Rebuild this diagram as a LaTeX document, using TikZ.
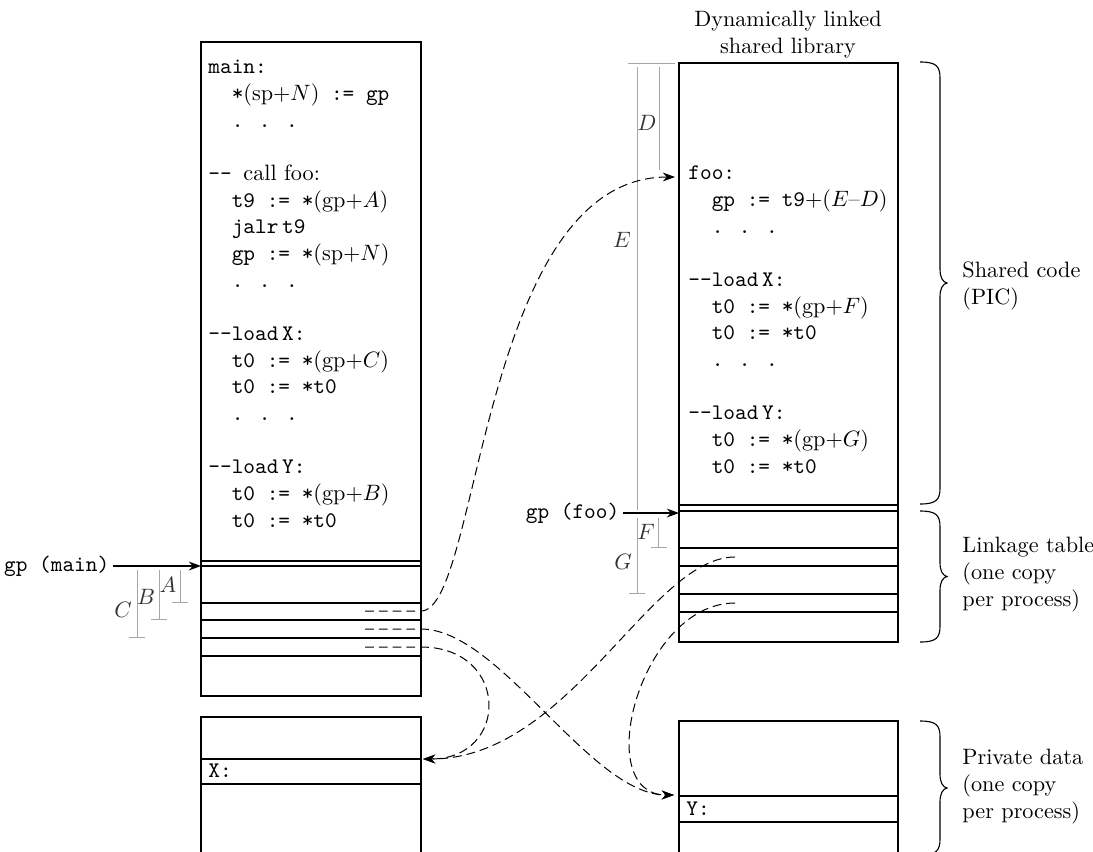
\documentclass[tikz,border=0pt]{standalone}
\usetikzlibrary{arrows.meta,positioning}

\newcommand{\tw}[1]{\texttt{#1}}
\newcommand{\ind}{\hspace*{10.5pt}}
% curly brace beside a segment: x, top, bottom
\newcommand{\sidebrace}[3]{%
  \pgfmathsetmacro{\bmid}{(#2+#3)/2}
  \draw[line width=0.5pt] (#1,#2) .. controls (#1+16,#2) and (#1+20,#2+4) .. (#1+20,#2+16)
    -- (#1+20,\bmid-14) .. controls (#1+20,\bmid-5) and (#1+23,\bmid-1) .. (#1+27,\bmid)
    .. controls (#1+23,\bmid+1) and (#1+20,\bmid+5) .. (#1+20,\bmid+14)
    -- (#1+20,#3-16) .. controls (#1+20,#3-4) and (#1+16,#3) .. (#1,#3);}

\begin{document}
\begin{tikzpicture}[x=0.45pt,y=-0.45pt,
  frame/.style={line width=0.6pt},
  dim/.style={gray!70,line width=0.45pt},
  dimlbl/.style={text=black!80,inner sep=0pt},
  ptr/.style={-{Stealth[length=5.5pt,width=4pt]},line width=0.6pt},
  link/.style={-{Stealth[length=5.5pt,width=4pt]},dash pattern=on 4pt off 2.2pt,line width=0.45pt},
  listing/.style={anchor=base west,align=left,inner sep=0pt},
  note/.style={anchor=base west,align=left,inner sep=0pt}
]
\useasboundingbox (0,0) rectangle (1093,851);
\clip (0,0) rectangle (1093,851);

% main program and its data
\draw[frame] (201,42) rectangle (421,696);
\foreach \y in {561,566,603,620,638,656} \draw[frame] (201,\y) -- (421,\y);
\draw[frame] (201,860) -- (201,717) -- (421,717) -- (421,860);
\foreach \y in {759,784} \draw[frame] (201,\y) -- (421,\y);

% shared library and its data
\draw[frame] (679,63) rectangle (898,642);
\foreach \y in {505,511,548,566,594,612} \draw[frame] (679,\y) -- (898,\y);
\draw[frame] (679,860) -- (679,721) -- (898,721) -- (898,860);
\foreach \y in {796,822} \draw[frame] (679,\y) -- (898,\y);

% multi-line nodes sit on the baseline of their last line
\node[align=center,anchor=base] (libTitle) at (788,53) {Dynamically linked\\shared library};

\node[listing] (mainCode) at (208,527) {%
  \tw{main:}\\
  \ind\tw{*}(sp+$N$)\tw{ := gp}\\
  \ind\tw{. . .}\\
  \\
  \tw{-{}- }call foo:\\
  \ind\tw{t9 := *}(gp+$A$)\\
  \ind\tw{jalr}\,\tw{t9}\\
  \ind\tw{gp := *}(sp+$N$)\\
  \ind\tw{. . .}\\
  \\
  \tw{-{}-load}\,\tw{X:}\\
  \ind\tw{t0 := *}(gp+$C$)\\
  \ind\tw{t0 := *t0}\\
  \ind\tw{. . .}\\
  \\
  \tw{-{}-load}\,\tw{Y:}\\
  \ind\tw{t0 := *}(gp+$B$)\\
  \ind\tw{t0 := *t0}};

\node[listing] (fooCode) at (688,473) {%
  \tw{foo:}\\
  \ind\tw{gp := t9}+($E$--$D$)\\
  \ind\tw{. . .}\\
  \\
  \tw{-{}-load}\,\tw{X:}\\
  \ind\tw{t0 := *}(gp+$F$)\\
  \ind\tw{t0 := *t0}\\
  \ind\tw{. . .}\\
  \\
  \tw{-{}-load}\,\tw{Y:}\\
  \ind\tw{t0 := *}(gp+$G$)\\
  \ind\tw{t0 := *t0}};

\node[anchor=west,inner sep=0pt] (xCell) at (208,771) {\tw{X:}};
\node[anchor=west,inner sep=0pt] (yCell) at (686,809) {\tw{Y:}};

% global pointers
\node[anchor=east,inner sep=1.5pt] (gpMain) at (113,566) {\tw{gp (main)}};
\coordinate (mainGP) at (201,566);
\draw[ptr] (gpMain) -- (mainGP);
\node[anchor=east,inner sep=1.5pt] (gpFoo) at (623,513) {\tw{gp (foo)}};
\coordinate (fooGP) at (679,513);
\draw[ptr] (gpFoo) -- (fooGP);

% offsets
\foreach \x/\yb in {180/602,159/619,137/637}
  \draw[dim] (\x,570) -- (\x,\yb) (\x-8,\yb) -- (\x+8,\yb);
\node[dimlbl] (lblA) at (168,585) {$A$};
\node[dimlbl] (lblB) at (146,597) {$B$};
\node[dimlbl] (lblC) at (123,610) {$C$};
\draw[dim] (628,63) -- (675,63);
\draw[dim] (637,67) -- (637,510);
\draw[dim] (659,67) -- (659,170);
\draw[dim] (637,518) -- (637,593) (629,593) -- (645,593);
\draw[dim] (658,518) -- (658,547) (651,547) -- (667,547);
\node[dimlbl] (lblD) at (647,123) {$D$};
\node[dimlbl] (lblE) at (622,240) {$E$};
\node[dimlbl] (lblF) at (646,532) {$F$};
\node[dimlbl] (lblG) at (623,562) {$G$};

% linkage pointers
\coordinate (fooSlot) at (365,611);
\coordinate (ySlot) at (365,629);
\coordinate (xSlot) at (365,647);
\coordinate (libX) at (735,557);
\coordinate (libY) at (735,603);
\coordinate (fooEntry) at (675,177);
\coordinate (xEntry) at (423,759);
\coordinate (yEntry) at (674,795);
\draw[link] (fooSlot) -- ++(56,0) .. controls +(59,0) and +(-195,0) .. (fooEntry);
\draw[link] (ySlot) -- ++(56,0) .. controls +(79,0) and +(-84,0) .. (yEntry);
\draw[link] (xSlot) -- ++(56,0) .. controls +(89,0) and +(87,0) .. (xEntry);
\draw[link] (libX) .. controls +(-85,0) and +(147,0) .. (xEntry);
\draw[link] (libY) .. controls +(-95,0) and +(-84,0) .. (yEntry);

% regions
\sidebrace{920}{62}{504}
\sidebrace{920}{511}{642}
\sidebrace{920}{721}{855}
\node[note] (sharedLbl) at (962,304) {Shared code\\(PIC)};
\node[note] (linkLbl) at (962,606) {Linkage table\\(one copy\\per process)};
\node[note] (privLbl) at (962,818) {Private data\\(one copy\\per process)};
\end{tikzpicture}
\end{document}
